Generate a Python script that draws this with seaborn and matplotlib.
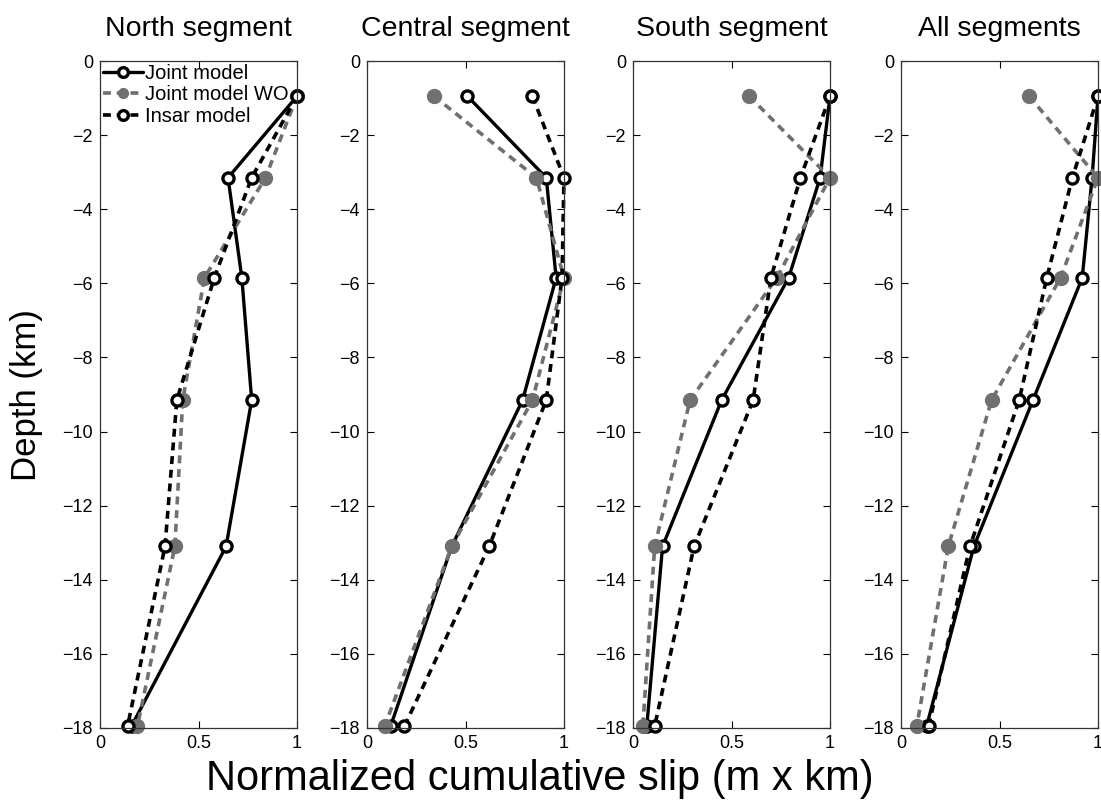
import numpy as np
import pandas as pd
import matplotlib
matplotlib.use("Agg")
import matplotlib.pyplot as plt
import seaborn as sns

sns.set_theme(style="white")
plt.rcParams['font.family'] = ['Liberation Sans', 'DejaVu Sans']
plt.rcParams['text.color'] = 'black'
plt.rcParams['axes.labelcolor'] = 'black'

depth = [-0.95, -3.15, -5.85, -9.15, -13.1, -17.95]
segments = ["North segment", "Central segment", "South segment", "All segments"]

joint = {
    "North segment":   [1.00, 0.65, 0.72, 0.77, 0.64, 0.16],
    "Central segment": [0.51, 0.91, 0.96, 0.79, 0.43, 0.12],
    "South segment":   [1.00, 0.95, 0.79, 0.45, 0.15, 0.07],
    "All segments":    [1.00, 0.97, 0.92, 0.67, 0.37, 0.13],
}
joint_wo = {
    "North segment":   [1.00, 0.84, 0.53, 0.42, 0.38, 0.19],
    "Central segment": [0.34, 0.86, 1.00, 0.84, 0.43, 0.09],
    "South segment":   [0.59, 1.00, 0.73, 0.29, 0.11, 0.05],
    "All segments":    [0.65, 1.00, 0.81, 0.46, 0.24, 0.08],
}
insar = {
    "North segment":   [1.00, 0.77, 0.58, 0.39, 0.33, 0.14],
    "Central segment": [0.84, 1.00, 0.99, 0.91, 0.62, 0.19],
    "South segment":   [1.00, 0.85, 0.70, 0.61, 0.31, 0.11],
    "All segments":    [1.00, 0.87, 0.74, 0.60, 0.35, 0.14],
}
series_names = ["Joint model", "Joint model WO", "Insar model"]
xticks = [0, 0.5, 1]
xticklabels = ["0", "0.5", "1"]
yticks = [0, -2, -4, -6, -8, -10, -12, -14, -16, -18]

fig = plt.figure(figsize=(11.01, 8.01), dpi=100)
W, H = 1101, 801
lefts = [100, 367, 633, 901]
aw = 197
top, bottom = 61, 728

styles = {
    "Joint model": dict(color="black", linestyle="-", linewidth=2.4, marker="o",
                        markersize=8, markerfacecolor="white", markeredgecolor="black",
                        markeredgewidth=2.4),
    "Joint model WO": dict(color="#707070", linestyle=(0, (2.2, 1.6)), linewidth=2.6, marker="o",
                           markersize=10, markerfacecolor="#707070", markeredgecolor="#707070",
                           markeredgewidth=1),
    "Insar model": dict(color="black", linestyle=(0, (2.2, 1.6)), linewidth=2.6, marker="o",
                        markersize=8, markerfacecolor="white", markeredgecolor="black",
                        markeredgewidth=2.4),
}

for i, seg in enumerate(segments):
    ax = fig.add_axes([lefts[i] / W, 1 - bottom / H, aw / W, (bottom - top) / H])
    data = {"Joint model": joint[seg], "Joint model WO": joint_wo[seg], "Insar model": insar[seg]}
    for name in series_names:
        df = pd.DataFrame({"slip": data[name], "depth": depth})
        sns.lineplot(data=df, x="slip", y="depth", sort=False, estimator=None,
                     ax=ax, label=name if i == 0 else None, clip_on=False, **styles[name])
    ax.set_xlim(0, 1)
    ax.set_ylim(-18, 0)
    ax.set_xticks(xticks)
    ax.set_xticklabels(xticklabels)
    ax.set_yticks(yticks)
    ax.set_yticklabels([str(t).replace("-", "\u2212") for t in yticks])
    ax.set_xlabel("")
    ax.set_ylabel("")
    ax.tick_params(direction="in", top=True, right=True, bottom=True, left=True,
                   length=5, width=0.8, labelsize=13, colors="black", pad=5)
    for sp in ax.spines.values():
        sp.set_color("#333333")
        sp.set_linewidth(0.9)
    ax.set_title(seg, fontsize=20.5, pad=18, color="black")
    if i == 0:
        leg = ax.legend(loc="upper left", frameon=False, fontsize=14.5,
                        handlelength=2.0, handletextpad=0.1, borderaxespad=0.05,
                        labelspacing=0.12, borderpad=0.1)
        for t in leg.get_texts():
            t.set_color("black")
        for h in leg.legend_handles:
            h.set_markersize(7)
    else:
        lg = ax.get_legend()
        if lg:
            lg.remove()

fig.text(10 / W, 1 - 395 / H, "Depth (km)", rotation=90, fontsize=25, va="center", ha="left", color="black")
fig.text(540 / W, 1 - 779 / H, "Normalized cumulative slip (m x km)", fontsize=30, ha="center", va="center", color="black")

fig.savefig("out.png", dpi=100)
